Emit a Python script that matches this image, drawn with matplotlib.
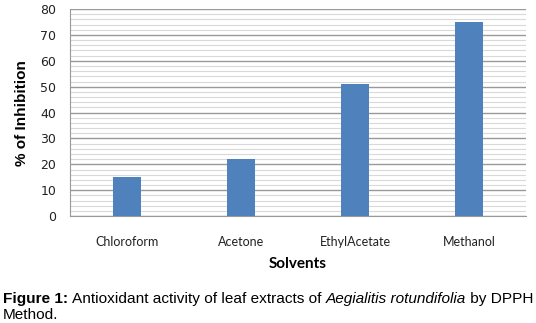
import matplotlib.pyplot as plt
import numpy as np

# Data
solvents = ['Chloroform', 'Acetone', 'EthylAcetate', 'Methanol']
inhibition = [15, 22, 51, 75]
y_ticks = [0, 10, 20, 30, 40, 50, 60, 70, 80]

fig = plt.figure(figsize=(5.36, 3.23), dpi=100)
ax = fig.add_axes([0.1306, 0.331, 0.8507, 0.641])

x_pos = np.arange(len(solvents))
ax.bar(x_pos, inhibition, width=0.25, color='#4F81BD', zorder=3)

ax.set_xlim(-0.5, len(solvents) - 0.5)
ax.set_ylim(0, 80)
ax.set_yticks(y_ticks)
ax.set_yticks(np.arange(0, 81, 2), minor=True)
ax.set_xticks(x_pos)
ax.set_xticklabels(solvents, fontname='Lato', fontsize=9, color='#222222')
for lab in ax.get_yticklabels():
    lab.set_fontname('DejaVu Sans')
    lab.set_fontsize(9)
    lab.set_color('#222222')

ax.grid(axis='y', which='minor', color='#d9d9d9', linewidth=0.8, zorder=0)
ax.grid(axis='y', which='major', color='#999999', linewidth=1.0, zorder=1)

ax.tick_params(axis='both', which='both', length=0)
ax.tick_params(axis='x', pad=14)
ax.tick_params(axis='y', pad=10)
for side in ['top', 'right']:
    ax.spines[side].set_visible(False)
ax.spines['left'].set_color('#999999')
ax.spines['bottom'].set_color('#999999')

ax.set_ylabel('% of Inhibition', fontname='Liberation Sans', fontsize=11,
              fontweight='bold', labelpad=8)
fig.text(0.556, 0.17, 'Solvents', ha='center', fontname='Lato',
         fontweight='bold', fontsize=11)

# Caption, pieces placed one after another
caption = [('Figure 1: ', 'bold', 'normal'),
           ('Antioxidant activity of leaf extracts of ', 'normal', 'normal'),
           ('Aegialitis rotundifolia', 'normal', 'italic'),
           (' by DPPH', 'normal', 'normal')]
renderer = fig.canvas.get_renderer()
x = 3
for piece, weight, style in caption:
    t = fig.text(x / 536, 0.062, piece, fontname='Liberation Sans',
                 fontweight=weight, fontstyle=style, fontsize=11.1)
    x += t.get_window_extent(renderer).width
fig.text(3 / 536, 0.012, 'Method.', fontname='Liberation Sans', fontsize=11.1)

fig.savefig('out.png', dpi=100)
